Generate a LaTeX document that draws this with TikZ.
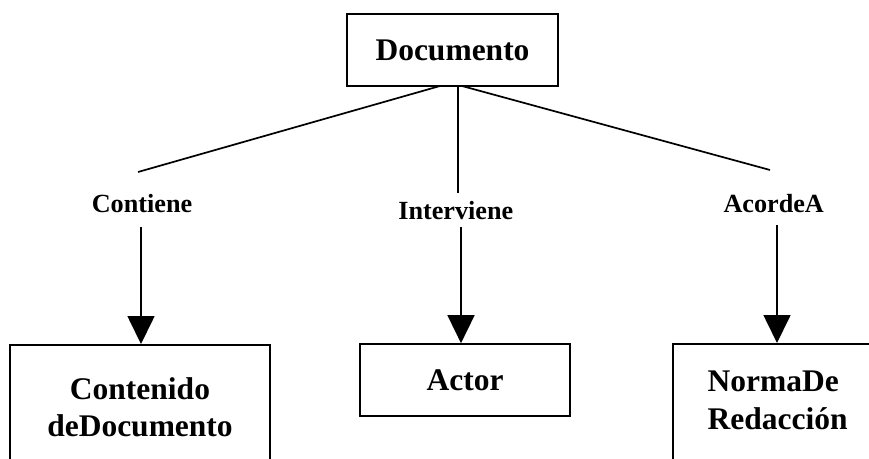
\documentclass[tikz,border=0pt]{standalone}
\usepackage{fontspec}
\setmainfont{Liberation Serif}
\usetikzlibrary{arrows.meta}
\begin{document}
\begin{tikzpicture}[x=1pt,y=1pt,
  box/.style={draw,line width=1.7pt,inner sep=0pt,
    font=\bfseries\fontsize{31.5}{37.5}\selectfont},
  rel/.style={inner sep=0pt,font=\bfseries\fontsize{26.2}{30}\selectfont},
  link/.style={line width=1.7pt},
  arrowlink/.style={line width=1.7pt,-{Triangle[width=27pt,length=28pt]}}]
  \useasboundingbox (0,0) rectangle (869,458);
  \clip (0,0) rectangle (869,458);

  % entity boxes (the two outer ones run past the page edges)
  \node[box,minimum width=211pt,minimum height=72pt] (doc) at (452.5,408) {Documento};
  \node[box,anchor=north,minimum width=260pt,inner ysep=32.3pt,text depth=100pt,align=center]
    (cont) at (140,114) {Contenido\\deDocumento};
  \node[box,minimum width=210pt,minimum height=72pt] (actor) at (465,78) {Actor};
  \node[box,anchor=north west,text width=260pt,inner xsep=34.7pt,inner ysep=27.4pt,
    text depth=100pt,align=left]
    (norma) at (672,115) {NormaDe\\Redacción};

  % relation labels
  \node[rel,anchor=base] (contiene) at (142,245) {Contiene};
  \node[rel,anchor=base] (interviene) at (455.8,238) {Interviene};
  \node[rel,anchor=base] (acorde) at (773.7,245) {AcordeA};

  % line end points
  \coordinate (d1) at (440,372);
  \coordinate (d2) at (458,372);
  \coordinate (d3) at (462,372);
  \coordinate (c1) at (138,286);
  \coordinate (c2) at (458,265);
  \coordinate (c3) at (770,288);
  \coordinate (a1) at (141,231);
  \coordinate (a2) at (461,231);
  \coordinate (a3) at (777,233);

  % connectors
  \draw[link] (d1) -- (c1);
  \draw[link] (d2) -- (c2);
  \draw[link] (d3) -- (c3);
  \draw[arrowlink] (a1) -- (a1 |- cont.north);
  \draw[arrowlink] (a2) -- (a2 |- actor.north);
  \draw[arrowlink] (a3) -- (a3 |- norma.north);
\end{tikzpicture}
\end{document}
